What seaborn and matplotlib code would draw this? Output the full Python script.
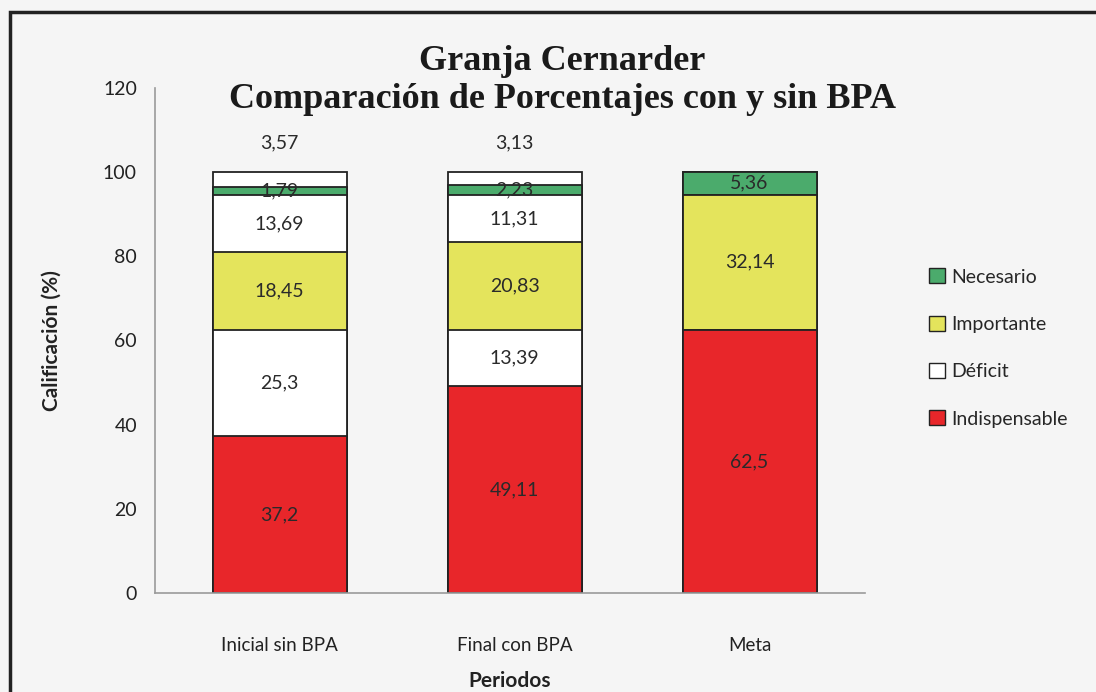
import matplotlib
matplotlib.use("Agg")
import matplotlib.pyplot as plt
import seaborn as sns
import pandas as pd
from matplotlib.patches import Patch, Rectangle

# data
periodos = ["Inicial sin BPA", "Final con BPA", "Meta"]
indispensable = [37.2, 49.11, 62.5]
deficit_1 = [25.3, 13.39, 0]
importante = [18.45, 20.83, 32.14]
deficit_2 = [13.69, 11.31, 0]
necesario = [1.79, 2.23, 5.36]
deficit_3 = [3.57, 3.13, 0]

RED = "#e8262a"
YELLOW = "#e4e45c"
GREEN = "#4bab6c"
WHITE = "#ffffff"
BG = "#f5f5f5"

layers = [
    ("Indispensable", indispensable, RED),
    ("Déficit", deficit_1, WHITE),
    ("Importante", importante, YELLOW),
    ("Déficit", deficit_2, WHITE),
    ("Necesario", necesario, GREEN),
    ("Déficit", deficit_3, WHITE),
]

df = pd.DataFrame({"periodo": periodos})
bottoms = [0.0] * len(periodos)
tops = []
for name, vals, color in layers:
    tops.append([b + v for b, v in zip(bottoms, vals)])
    bottoms = tops[-1]

sns.set_theme(style="white")
plt.rcParams["font.family"] = ["Lato", "DejaVu Sans"]

fig = plt.figure(figsize=(10.96, 6.92), dpi=100, facecolor=BG)
ax = fig.add_axes([0.1414, 0.143, 0.6476, 0.730])
ax.set_facecolor(BG)

# stack by drawing cumulative totals from the top layer down
for i in range(len(layers) - 1, -1, -1):
    name, vals, color = layers[i]
    df["top"] = tops[i]
    sns.barplot(data=df, x="periodo", y="top", color=color, saturation=1,
                width=0.57, edgecolor="#222222", linewidth=1.3, ax=ax)

# value labels
for i, (name, vals, color) in enumerate(layers):
    for j, v in enumerate(vals):
        if v <= 0:
            continue
        label = f"{v:g}".replace(".", ",")
        if i == len(layers) - 1:
            y = tops[i][j] + 7.0
        else:
            y = tops[i][j] - v / 2
        ax.text(j, y, label, ha="center", va="center", fontsize=14, color="#2a2a2a")

ax.set_ylim(0, 120)
ax.set_xlim(-0.53, 2.49)
ax.set_yticks(range(0, 121, 20))
ax.tick_params(axis="y", length=5, color="#999999", labelsize=14, labelcolor="#222222", pad=8)
ax.tick_params(axis="x", length=0, labelsize=13.5, labelcolor="#222222", pad=32)
for s in ["top", "right"]:
    ax.spines[s].set_visible(False)
for s in ["left", "bottom"]:
    ax.spines[s].set_color("#9a9a9a")
    ax.spines[s].set_linewidth(1.2)

ax.set_xlabel("Periodos", fontsize=15, fontweight="bold", color="#222222", labelpad=12)
ax.set_ylabel("Calificación (%)", fontsize=15, fontweight="bold", color="#222222", labelpad=30)

fig.text(0.513, 0.884, "Granja Cernarder\nComparación de Porcentajes con y sin BPA",
         ha="center", va="center", fontsize=26, fontweight="bold",
         family="Liberation Serif", color="#1a1a1a", linespacing=1.2)

handles = [
    Patch(facecolor=GREEN, edgecolor="#222222", label="Necesario"),
    Patch(facecolor=YELLOW, edgecolor="#222222", label="Importante"),
    Patch(facecolor=WHITE, edgecolor="#222222", label="Déficit"),
    Patch(facecolor=RED, edgecolor="#222222", label="Indispensable"),
]
fig.legend(handles=handles, loc="center left", bbox_to_anchor=(0.832, 0.497),
           frameon=False, fontsize=14, handlelength=0.8, handleheight=0.8,
           handletextpad=0.3, labelspacing=1.55)

# outer frame of the scanned chart
fig.patches.append(Rectangle((10 / 1096, -0.05), 1.2, 1 - 12 / 692 + 0.05,
                             transform=fig.transFigure, fill=False,
                             edgecolor="#222222", linewidth=2.5))

fig.savefig("out.png", dpi=100, facecolor=BG)
